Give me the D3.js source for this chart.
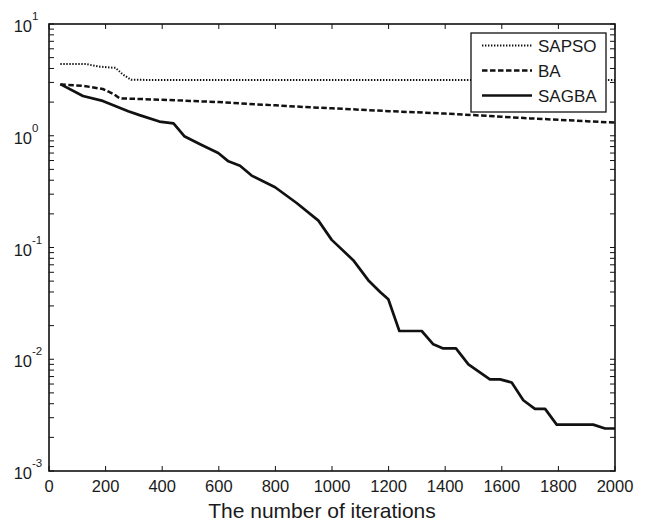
<!DOCTYPE html>
<html>
<head>
<meta charset="utf-8">
<script src="https://cdn.jsdelivr.net/npm/d3@7"></script>
<style>
  body { margin: 0; background: #fff; }
  svg text { font-family: "Liberation Sans", Arial, Helvetica, sans-serif; fill: #1a1a1a; }
</style>
</head>
<body>
<script>
// chart size
const w = 648;
const h = 524;
const margin = { top: 24, right: 33, bottom: 53, left: 49 };

// DATA: iterations and best fitness for each algorithm
const sapsoIter = [40, 130, 180, 235, 260, 290, 400, 1000, 2000];
const sapsoVal  = [4.38, 4.38, 4.15, 4.05, 3.55, 3.17, 3.15, 3.15, 3.15];

const baIter = [40, 120, 190, 230, 250, 300, 400, 500, 600, 700, 800, 900, 1000,
                1100, 1200, 1300, 1400, 1500, 1600, 1700, 1800, 1900, 2000];
const baVal  = [2.88, 2.80, 2.62, 2.35, 2.16, 2.14, 2.10, 2.05, 2.00, 1.93, 1.87, 1.81, 1.76,
                1.71, 1.66, 1.62, 1.58, 1.53, 1.48, 1.43, 1.39, 1.35, 1.31];

const sagbaIter = [40, 120, 190, 280, 320, 390, 440, 478, 534, 598, 634, 675, 716, 799,
                   875, 952, 999, 1075, 1128, 1170, 1199, 1238, 1317, 1358, 1393, 1438,
                   1482, 1558, 1594, 1635, 1676, 1717, 1753, 1794, 1923, 1965, 2000];
const sagbaVal  = [2.90, 2.27, 2.05, 1.66, 1.53, 1.34, 1.29, 0.99, 0.84, 0.70, 0.59, 0.54, 0.44, 0.346,
                   0.25, 0.174, 0.117, 0.077, 0.051, 0.040, 0.0344, 0.0179, 0.0179, 0.0136, 0.0125, 0.0125,
                   0.0090, 0.0066, 0.0066, 0.0062, 0.0043, 0.0036, 0.0036, 0.0026, 0.0026, 0.0024, 0.0024];

const xTicks = [0, 200, 400, 600, 800, 1000, 1200, 1400, 1600, 1800, 2000];
const yExps = [-3, -2, -1, 0, 1];
const seriesNames = ["SAPSO", "BA", "SAGBA"];
const xLabel = "The number of iterations";

const toPoints = (xs, ys) => xs.map((x, i) => ({ x: x, y: ys[i] }));
const series = [
  { name: seriesNames[0], pts: toPoints(sapsoIter, sapsoVal), dash: "1.4,1.6", width: 2 },
  { name: seriesNames[1], pts: toPoints(baIter, baVal), dash: "5.5,2.5", width: 2.5 },
  { name: seriesNames[2], pts: toPoints(sagbaIter, sagbaVal), dash: null, width: 2.7 }
];

let svg = d3.select("body")
  .append("svg")
  .attr("width", w)
  .attr("height", h);

const x0 = margin.left, x1 = w - margin.right;
const y0 = margin.top, y1 = h - margin.bottom;

let xScale = d3.scaleLinear().domain([0, 2000]).range([x0, x1]);
let yScale = d3.scaleLog().domain([1e-3, 10]).range([y1, y0]);

// minor log ticks (2..9 in each decade)
let minor = [];
for (let e = -3; e < 1; e++) {
  for (let m = 2; m <= 9; m++) minor.push(m * Math.pow(10, e));
}
const majorY = yExps.map(e => Math.pow(10, e));
const tl = 5;

let g = svg.append("g");

// y ticks, both sides, pointing inward
g.selectAll("line.ytick")
  .data(majorY.concat(minor))
  .enter().append("line")
  .attr("x1", x0).attr("x2", x0 + tl)
  .attr("y1", d => yScale(d)).attr("y2", d => yScale(d))
  .attr("stroke", "#111").attr("stroke-width", 1);
g.selectAll("line.ytickr")
  .data(majorY.concat(minor))
  .enter().append("line")
  .attr("x1", x1).attr("x2", x1 - tl)
  .attr("y1", d => yScale(d)).attr("y2", d => yScale(d))
  .attr("stroke", "#111").attr("stroke-width", 1);

// x ticks top and bottom
g.selectAll("line.xtick")
  .data(xTicks)
  .enter().append("line")
  .attr("x1", d => xScale(d)).attr("x2", d => xScale(d))
  .attr("y1", y1).attr("y2", y1 - tl)
  .attr("stroke", "#111").attr("stroke-width", 1);
g.selectAll("line.xtickt")
  .data(xTicks)
  .enter().append("line")
  .attr("x1", d => xScale(d)).attr("x2", d => xScale(d))
  .attr("y1", y0).attr("y2", y0 + tl)
  .attr("stroke", "#111").attr("stroke-width", 1);

// x tick labels
g.selectAll("text.xl")
  .data(xTicks)
  .enter().append("text")
  .attr("x", d => xScale(d))
  .attr("y", y1 + 21)
  .attr("text-anchor", "middle")
  .attr("font-size", 16.5)
  .text(d => d);

// y tick labels 10^n
g.selectAll("text.yl")
  .data(yExps)
  .enter().append("text")
  .attr("x", x0 - 17)
  .attr("y", d => yScale(Math.pow(10, d)) + 8)
  .attr("text-anchor", "end")
  .attr("font-size", 16.5)
  .text("10");
g.selectAll("text.ye")
  .data(yExps)
  .enter().append("text")
  .attr("x", x0 - 17)
  .attr("y", d => yScale(Math.pow(10, d)) - 4)
  .attr("font-size", 11.5)
  .text(d => d);

// the lines
let line = d3.line()
  .x(d => xScale(d.x))
  .y(d => yScale(d.y));

g.selectAll("path.series")
  .data(series)
  .enter().append("path")
  .attr("d", d => line(d.pts))
  .attr("fill", "none")
  .attr("stroke", "#111")
  .attr("stroke-width", d => d.width)
  .attr("stroke-dasharray", d => d.dash)
  .attr("stroke-linejoin", "round");

// box
g.append("rect")
  .attr("x", x0).attr("y", y0)
  .attr("width", x1 - x0).attr("height", y1 - y0)
  .attr("fill", "none")
  .attr("stroke", "#111")
  .attr("stroke-width", 1.6);

// legend
let lg = svg.append("g").attr("transform", "translate(471,33)");
lg.append("rect")
  .attr("width", 135).attr("height", 79)
  .attr("fill", "#fff")
  .attr("stroke", "#111")
  .attr("stroke-width", 1.3);
let items = lg.selectAll("g.item")
  .data(series)
  .enter().append("g")
  .attr("transform", (d, i) => "translate(0," + (12.5 + i * 25) + ")");
items.append("line")
  .attr("x1", 11).attr("x2", 61)
  .attr("stroke", "#111")
  .attr("stroke-width", d => d.width)
  .attr("stroke-dasharray", d => d.dash);
items.append("text")
  .attr("x", 67)
  .attr("y", 6)
  .attr("font-size", 17)
  .text(d => d.name);

// axis title
svg.append("text")
  .attr("x", 322)
  .attr("y", 518)
  .attr("text-anchor", "middle")
  .attr("font-size", 21)
  .text(xLabel);
</script>
</body>
</html>
